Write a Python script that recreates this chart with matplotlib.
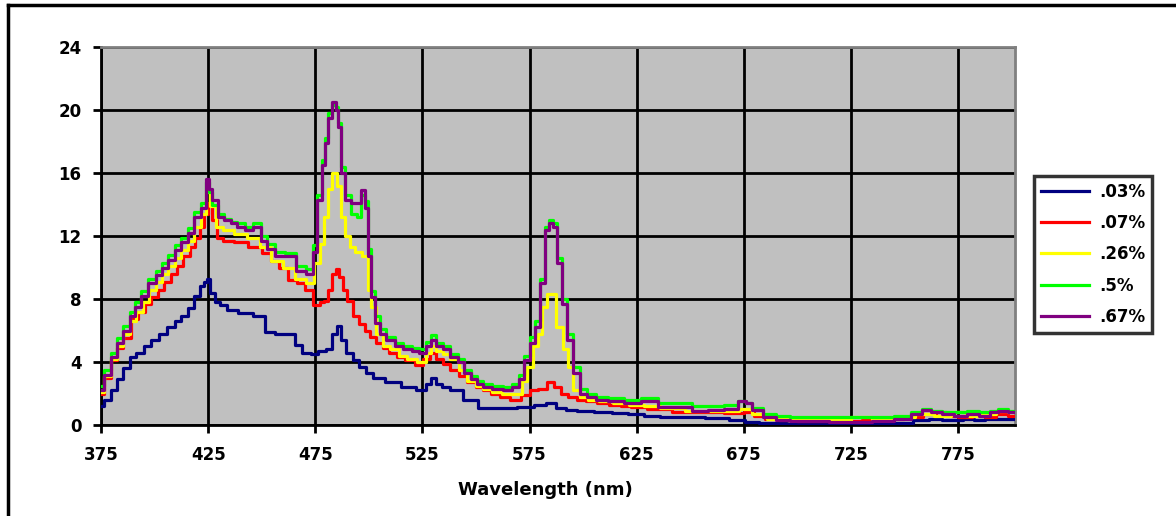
import matplotlib
matplotlib.use('Agg')
import matplotlib.pyplot as plt
from matplotlib.lines import Line2D

plt.rcParams['font.family'] = ['DejaVu Sans']
plt.rcParams['font.weight'] = 'bold'

# ---- data (wavelength nm, relative intensity) ----
wl_03 = [375, 378, 381, 384, 387, 390, 393, 397, 400, 404, 408, 411, 414, 417, 420, 422, 424, 425,
         427, 429, 432, 436, 442, 450, 453, 459, 464, 467, 471, 475, 478, 482, 484, 486, 488, 491,
         494, 497, 500, 504, 511, 519, 525, 528, 530, 533, 535, 541, 547, 555, 564, 574, 580, 585,
         590, 594, 600, 610, 617, 625, 632, 640, 650, 664, 672, 679, 685, 690, 700, 710, 720, 730,
         740, 750, 758, 765, 770, 775, 780, 785, 790, 795, 802]
v_03 = [1.2, 1.6, 2.2, 2.9, 3.6, 4.3, 4.6, 5.0, 5.4, 5.8, 6.2, 6.6, 6.9, 7.4, 8.2, 8.8, 9.1, 9.3,
        8.4, 7.8, 7.6, 7.3, 7.1, 6.9, 5.9, 5.8, 5.8, 5.1, 4.6, 4.5, 4.7, 4.8, 5.8, 6.3, 5.4, 4.6,
        4.1, 3.7, 3.3, 3.0, 2.7, 2.4, 2.2, 2.6, 3.0, 2.6, 2.4, 2.2, 1.6, 1.1, 1.1, 1.15, 1.3, 1.4,
        1.1, 0.95, 0.9, 0.8, 0.75, 0.7, 0.6, 0.5, 0.5, 0.45, 0.3, 0.2, 0.15, 0.1, 0.05, 0.05, 0.05, 0.05,
        0.1, 0.15, 0.3, 0.35, 0.3, 0.3, 0.35, 0.3, 0.4, 0.35, 0.4]

wl_07 = [375, 378, 381, 384, 387, 391, 394, 397, 400, 403, 406, 409, 412, 415, 418, 420, 422, 424,
         426, 428, 430, 434, 440, 447, 453, 456, 460, 465, 468, 472, 476, 478, 480, 482, 484, 485,
         487, 489, 491, 494, 497, 499, 502, 505, 508, 511, 515, 519, 524, 527, 530, 533, 536, 540,
         544, 548, 552, 555, 559, 563, 569, 573, 577, 581, 585, 588, 591, 595, 599, 604, 609, 615,
         620, 625, 635, 648, 660, 672, 678, 682, 688, 695, 705, 715, 725, 735, 745, 755, 762, 767,
         772, 778, 785, 790, 795, 802]
v_07 = [2.0, 3.0, 4.1, 4.9, 5.5, 6.7, 7.2, 7.7, 8.1, 8.6, 9.1, 9.6, 10.1, 10.7, 11.3, 11.9, 12.6, 13.4,
        14.1, 13.0, 11.9, 11.7, 11.6, 11.3, 10.9, 10.4, 10.0, 9.2, 9.0, 8.6, 7.6, 7.8, 7.9, 8.6, 9.6, 9.9,
        9.4, 8.6, 7.9, 6.9, 6.4, 6.0, 5.6, 5.2, 4.9, 4.6, 4.3, 4.1, 3.8, 4.2, 4.6, 4.2, 3.9, 3.5,
        3.1, 2.7, 2.4, 2.2, 2.0, 1.8, 1.6, 1.9, 2.2, 2.3, 2.7, 2.4, 2.0, 1.8, 1.6, 1.5, 1.4, 1.3,
        1.2, 1.15, 1.0, 0.85, 0.8, 0.75, 0.85, 0.6, 0.4, 0.3, 0.25, 0.25, 0.25, 0.3, 0.35, 0.5, 0.7, 0.8,
        0.6, 0.5, 0.55, 0.5, 0.7, 0.6]

wl_26 = [375, 378, 381, 384, 387, 390, 393, 396, 399, 402, 405, 408, 411, 414, 417, 420, 423, 425,
         427, 430, 434, 440, 446, 452, 457, 463, 468, 473, 476, 478, 480, 482, 484, 486, 488, 490,
         492, 495, 499, 500, 502, 505, 508, 512, 516, 520, 525, 528, 530, 533, 536, 540, 544, 548,
         552, 555, 560, 564, 570, 573, 575, 578, 580, 582, 584, 586, 589, 592, 594, 597, 600, 605,
         610, 618, 625, 632, 640, 655, 670, 676, 682, 690, 700, 710, 720, 730, 740, 750, 760, 768,
         775, 782, 790, 795, 802]
v_26 = [2.1, 3.1, 4.2, 5.0, 5.8, 6.6, 7.2, 7.8, 8.6, 9.1, 9.6, 10.1, 10.6, 11.1, 11.7, 12.6, 13.4, 14.8,
        13.9, 12.6, 12.4, 12.1, 11.9, 11.3, 10.4, 10.0, 9.3, 9.0, 10.3, 11.5, 13.2, 15.0, 16.0, 15.2, 13.2, 12.0,
        11.3, 11.0, 10.7, 8.6, 7.5, 5.8, 5.0, 4.8, 4.4, 4.2, 4.0, 4.6, 5.0, 4.7, 4.5, 4.2, 3.5, 2.8,
        2.5, 2.3, 2.1, 2.0, 2.0, 2.8, 3.7, 5.0, 5.8, 7.5, 8.3, 8.3, 6.2, 4.8, 3.7, 2.2, 1.8, 1.6,
        1.5, 1.4, 1.3, 1.2, 1.1, 0.9, 0.9, 1.0, 0.7, 0.4, 0.3, 0.3, 0.3, 0.5, 0.4, 0.5, 0.7, 0.6,
        0.8, 0.6, 0.7, 0.9, 0.8]

wl_5 = [375, 378, 381, 384, 387, 390, 392, 395, 399, 402, 405, 408, 411, 414, 417, 420, 423, 425,
        426, 428, 431, 434, 437, 440, 444, 448, 451, 454, 458, 464, 468, 473, 475, 477, 479, 480,
        482, 484, 485, 486, 488, 490, 493, 496, 497, 499, 500, 502, 504, 506, 510, 514, 518, 522,
        525, 528, 530, 533, 536, 540, 543, 546, 549, 552, 555, 560, 565, 569, 571, 574, 576, 579,
        581, 583, 585, 587, 589, 591, 594, 597, 600, 604, 608, 615, 623, 631, 639, 647, 655, 662,
        670, 675, 677, 681, 687, 693, 700, 710, 720, 730, 740, 750, 756, 760, 765, 770, 776, 782,
        788, 792, 795, 802]
v_5 = [2.5, 3.5, 4.6, 5.5, 6.3, 7.2, 7.8, 8.5, 9.3, 9.8, 10.3, 10.8, 11.4, 11.9, 12.5, 13.5, 14.1, 15.4,
       14.8, 14.0, 13.4, 13.1, 12.9, 12.8, 12.6, 12.8, 12.0, 11.5, 11.0, 10.9, 10.1, 9.9, 11.4, 14.6, 16.8, 18.2,
       19.8, 20.3, 20.2, 19.2, 16.4, 14.6, 13.4, 13.2, 14.6, 14.2, 11.2, 8.5, 6.9, 6.1, 5.6, 5.2, 5.0, 4.9,
       4.8, 5.3, 5.7, 5.2, 5.0, 4.5, 4.2, 3.5, 3.1, 2.8, 2.6, 2.5, 2.4, 2.6, 3.2, 4.4, 5.6, 6.6,
       9.3, 12.6, 13.0, 12.8, 10.6, 8.0, 5.8, 3.7, 2.3, 2.0, 1.8, 1.7, 1.6, 1.7, 1.4, 1.4, 1.2, 1.2,
       1.3, 1.5, 1.4, 1.1, 0.7, 0.6, 0.5, 0.5, 0.5, 0.5, 0.5, 0.6, 0.8, 1.0, 0.9, 0.8, 0.8, 0.9,
       0.8, 0.9, 1.0, 0.9]

wl_67 = wl_5
v_67 = [2.2, 3.2, 4.3, 5.2, 6.0, 6.9, 7.5, 8.2, 9.0, 9.5, 10.0, 10.5, 11.1, 11.6, 12.2, 13.2, 13.8, 15.6,
        15.0, 14.3, 13.2, 13.0, 12.8, 12.6, 12.4, 12.6, 11.7, 11.2, 10.7, 10.7, 9.8, 9.6, 11.0, 14.3, 16.5, 17.9,
        19.5, 20.5, 20.0, 18.9, 16.0, 14.3, 14.1, 14.1, 14.9, 13.8, 10.7, 8.1, 6.5, 5.8, 5.4, 5.0, 4.8, 4.7,
        4.6, 5.0, 5.4, 5.0, 4.8, 4.3, 4.0, 3.3, 2.9, 2.6, 2.4, 2.3, 2.2, 2.4, 2.9, 4.1, 5.2, 6.2,
        9.0, 12.4, 12.8, 12.6, 10.3, 7.7, 5.4, 3.3, 2.0, 1.8, 1.6, 1.5, 1.4, 1.5, 1.15, 1.15, 0.9, 0.95,
        1.0, 1.5, 1.4, 0.95, 0.5, 0.3, 0.25, 0.25, 0.2, 0.2, 0.25, 0.4, 0.7, 0.95, 0.8, 0.7, 0.6, 0.7,
        0.6, 0.8, 0.9, 0.8]

labels = ['.03%', '.07%', '.26%', '.5%', '.67%']
colors = ['#000080', '#FF0000', '#FFFF00', '#00FF00', '#800080']
series = [(wl_03, v_03), (wl_07, v_07), (wl_26, v_26), (wl_5, v_5), (wl_67, v_67)]

fig = plt.figure(figsize=(11.76, 5.16), dpi=100)
ax = fig.add_axes([101 / 1176, 91 / 516, 914 / 1176, 378 / 516])
ax.set_facecolor('#C0C0C0')

for (x, y), c, lab in zip(series, colors, labels):
    ax.plot(x, y, color=c, lw=2.3, drawstyle='steps-mid', label=lab, zorder=3)

ax.set_xlim(375, 801.6)
ax.set_ylim(0, 24)
ax.set_xticks(range(375, 800, 50))
ax.set_yticks(range(0, 25, 4))
ax.grid(True, color='black', lw=2.0, zorder=1)
ax.set_axisbelow(True)

for s in ['top', 'right']:
    ax.spines[s].set_color('#808080')
    ax.spines[s].set_linewidth(2)
for s in ['left', 'bottom']:
    ax.spines[s].set_color('black')
    ax.spines[s].set_linewidth(2)

ax.tick_params(axis='both', direction='out', length=6, width=2, labelsize=12)
ax.tick_params(axis='x', pad=9)
ax.tick_params(axis='y', pad=8)
for t in ax.get_xticklabels() + ax.get_yticklabels():
    t.set_fontweight('bold')

ax.set_xlabel('Wavelength (nm)', fontsize=13, fontweight='bold')
ax.xaxis.set_label_coords(0.486, -0.148)

leg = fig.legend(loc='upper left', bbox_to_anchor=(1034 / 1176, 1 - 176 / 516),
                 borderaxespad=0, prop={'size': 12, 'weight': 'bold'}, frameon=True,
                 fancybox=False, edgecolor='black', handlelength=2.9, labelspacing=0.8,
                 borderpad=0.4, handletextpad=0.6)
leg.get_frame().set_linewidth(2.5)
for h in leg.get_lines():
    h.set_linewidth(2.3)

# outer chart border (top and left edges visible)
fig.add_artist(Line2D([8 / 1176, 1], [1 - 5 / 516, 1 - 5 / 516], color='black', lw=2.5))
fig.add_artist(Line2D([8 / 1176, 8 / 1176], [0, 1 - 5 / 516], color='black', lw=2.5))

fig.savefig('out.png', dpi=100)
